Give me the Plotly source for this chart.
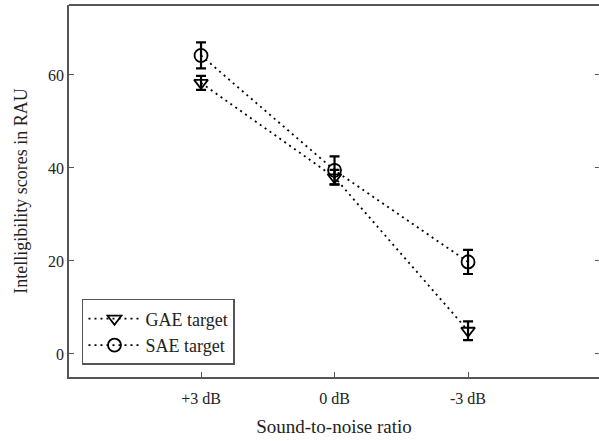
import plotly.graph_objects as go

categories = ["+3 dB", "0 dB", "-3 dB"]
gae_values = [58.3, 38.0, 5.0]
gae_errors = [1.5, 1.6, 2.0]
sae_values = [64.2, 39.5, 19.8]
sae_errors = [2.8, 3.0, 2.6]
y_ticks = [0, 20, 40, 60]

FONT = "Liberation Serif, Times New Roman, serif"
AX = "#555555"
TXT = "#222222"

fig = go.Figure()
fig.add_trace(go.Scatter(
    x=categories, y=gae_values, name="GAE target", mode="lines+markers",
    line=dict(color="black", width=1.8, dash="2px,4px"),
    marker=dict(symbol="triangle-down-open", size=12, color="black", line=dict(width=1.8)),
    error_y=dict(type="data", array=gae_errors, color="black", thickness=2.2, width=5),
))
fig.add_trace(go.Scatter(
    x=categories, y=sae_values, name="SAE target", mode="lines+markers",
    line=dict(color="black", width=1.8, dash="2px,4px"),
    marker=dict(symbol="circle-open", size=13, color="black", line=dict(width=1.8)),
    error_y=dict(type="data", array=sae_errors, color="black", thickness=2.2, width=5),
))
# invisible trace to enable right-side mirrored ticks
fig.add_trace(go.Scatter(x=categories, y=sae_values, yaxis="y2", mode="markers",
                         marker=dict(opacity=0), showlegend=False, hoverinfo="skip"))

yr = [-4.95, 75.05]
fig.update_layout(
    width=599, height=441,
    margin=dict(l=69, r=0, t=5, b=64),
    paper_bgcolor="white", plot_bgcolor="white",
    font=dict(family=FONT, color=TXT, size=16),
    showlegend=True,
    legend=dict(x=0.0245, y=0.2097, xanchor="left", yanchor="top",
                bordercolor=AX, borderwidth=1.5, bgcolor="white",
                font=dict(family=FONT, size=18, color=TXT),
                tracegroupgap=0, itemwidth=52),
    xaxis=dict(type="category", range=[-0.989, 2.981], showgrid=False, zeroline=False,
               showline=True, linecolor=AX, linewidth=1.8,
               ticks="inside", ticklen=5, tickcolor=AX, tickwidth=1.2,
               ticklabelstandoff=6,
               tickfont=dict(family=FONT, size=16, color=TXT),
               title=dict(text="Sound-to-noise ratio", font=dict(family=FONT, size=19, color=TXT), standoff=14)),
    yaxis=dict(range=yr, tickvals=y_ticks, showgrid=False, zeroline=False,
               showline=True, linecolor=AX, linewidth=1.8,
               ticks="inside", ticklen=5, tickcolor=AX, tickwidth=1.2,
               tickfont=dict(family=FONT, size=16, color=TXT),
               title=dict(text="Intelligibility scores in RAU", font=dict(family=FONT, size=18, color=TXT), standoff=16)),
    yaxis2=dict(range=yr, tickvals=y_ticks, overlaying="y", side="right", showgrid=False,
                zeroline=False, showline=False, showticklabels=False,
                ticks="inside", ticklen=4, tickcolor=AX, tickwidth=1.2),
)
fig.add_shape(type="line", xref="paper", yref="paper", x0=0, x1=1, y0=1, y1=1,
              line=dict(color=AX, width=1.8))
fig.write_html("out.html")
